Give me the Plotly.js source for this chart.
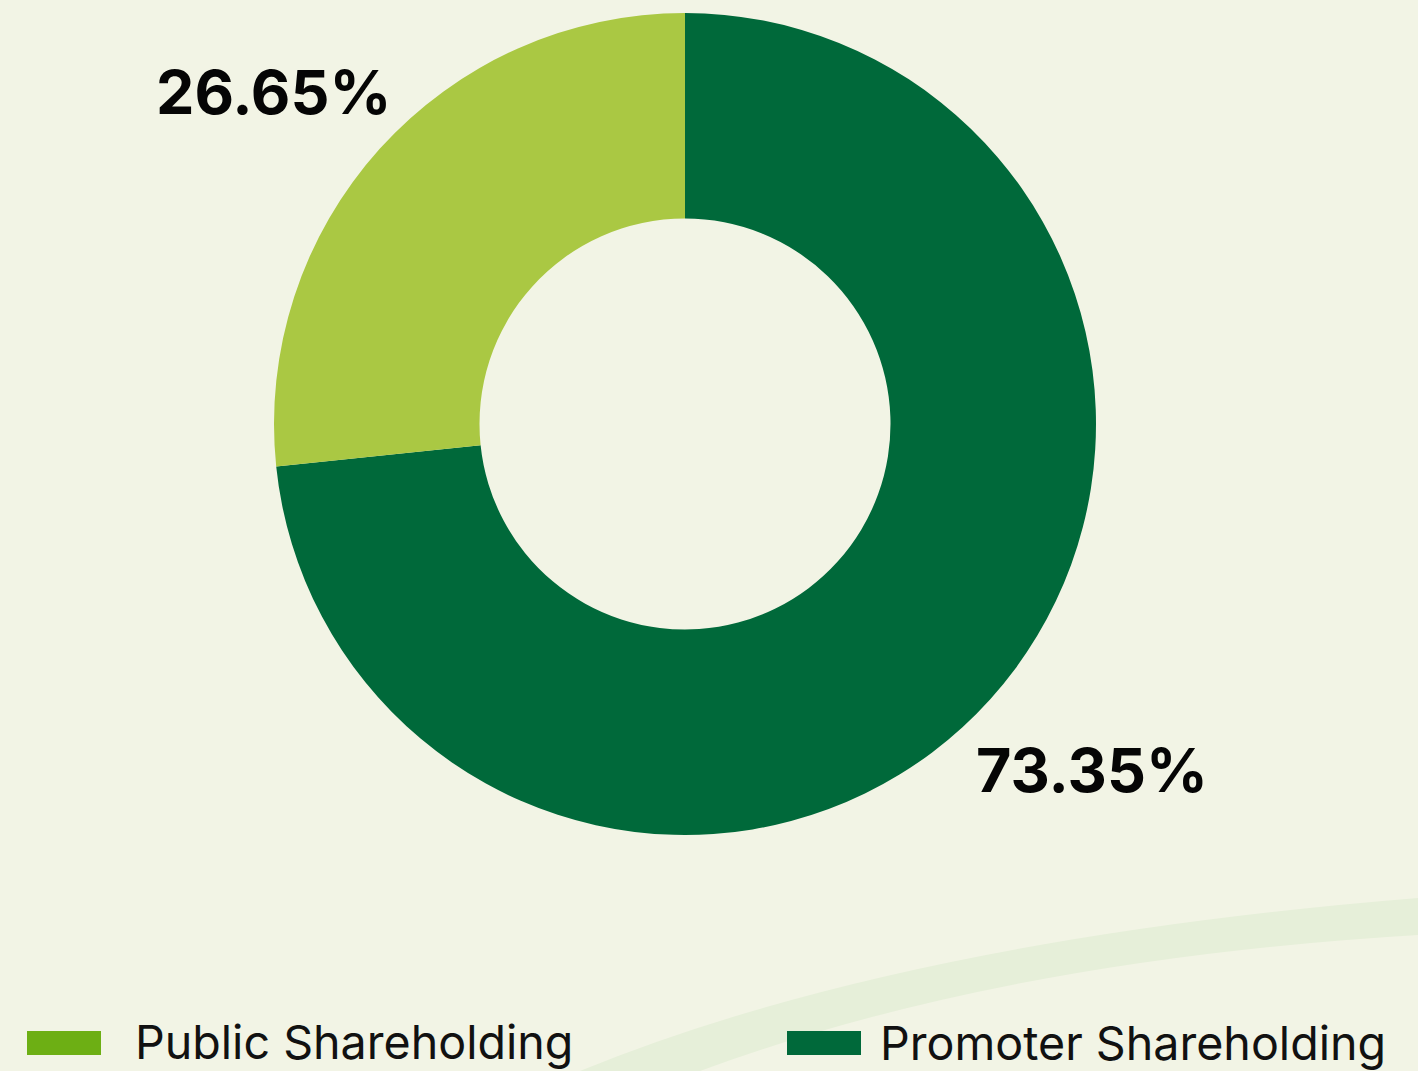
<!DOCTYPE html>
<html>
<head>
<meta charset="utf-8">
<script src="https://cdn.plot.ly/plotly-3.0.1.min.js"></script>
<style>html,body{margin:0;padding:0;background:#F2F4E5;}#chart{width:1418px;height:1071px;}</style>
</head>
<body>
<div id="chart"></div>
<script>
// Data
const labels = ["Public Shareholding", "Promoter Shareholding"];
const values = [26.65, 73.35];
const sliceColors = ["#AAC843", "#00693A"];
const legendColors = ["#6DAF14", "#00693A"];

const W = 1418, H = 1071;
const px = x => x / W;
const py = y => 1 - y / H;

// Promoter slice drawn first, clockwise from 12 o'clock
const trace = {
  type: "pie",
  labels: labels.slice().reverse(),
  values: values.slice().reverse(),
  hole: 0.5,
  sort: false,
  direction: "clockwise",
  rotation: 0,
  marker: { colors: sliceColors.slice().reverse(), line: { width: 0 } },
  textinfo: "none",
  hoverinfo: "label+value",
  showlegend: false,
  domain: { x: [px(685 - 411), px(685 + 411)], y: [py(424 + 411), py(424 - 411)] }
};

const pctPos = [[273, 92], [1092, 770]];
const annotations = values.map((v, i) => ({
  xref: "paper", yref: "paper",
  x: px(pctPos[i][0]), y: py(pctPos[i][1]),
  xanchor: "center", yanchor: "middle",
  text: v.toFixed(2) + "%",
  showarrow: false,
  font: { family: "Inter, Roboto, sans-serif", size: 61, color: "#050505", weight: 700 }
}));

const legX = [27, 787];
const legTextX = [133, 878];
const legTextY = [1042, 1043];
const shapes = [
  {
    type: "path", xref: "paper", yref: "paper", layer: "below",
    path: `M ${px(580)} ${py(1071)} Q ${px(900)} ${py(940)} ${px(1418)} ${py(898)} L ${px(1418)} ${py(935)} Q ${px(1000)} ${py(960)} ${px(700)} ${py(1071)} Z`,
    fillcolor: "#E6EFD9", line: { width: 0 }
  }
];
labels.forEach((lab, i) => {
  shapes.push({
    type: "rect", xref: "paper", yref: "paper",
    x0: px(legX[i]), x1: px(legX[i] + 74), y0: py(1055), y1: py(1031),
    fillcolor: legendColors[i], line: { width: 0 }
  });
  annotations.push({
    xref: "paper", yref: "paper",
    x: px(legTextX[i]), y: py(legTextY[i]),
    xanchor: "left", yanchor: "middle",
    text: lab, showarrow: false,
    font: { family: "Inter, Roboto, sans-serif", size: 46.6, color: "#111111" }
  });
});

const layout = {
  width: W, height: H,
  margin: { l: 0, r: 0, t: 0, b: 0 },
  paper_bgcolor: "#F2F4E5",
  plot_bgcolor: "#F2F4E5",
  showlegend: false,
  annotations: annotations,
  shapes: shapes
};

Plotly.newPlot("chart", [trace], layout, { displayModeBar: false, staticPlot: true });
</script>
</body>
</html>
